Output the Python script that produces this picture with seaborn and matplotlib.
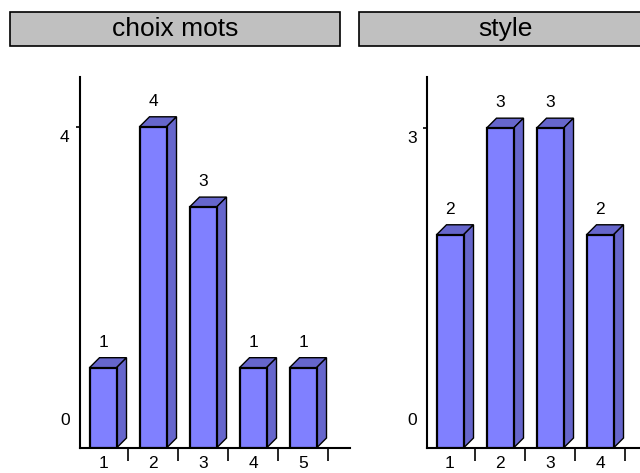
import matplotlib
matplotlib.use('Agg')
import matplotlib.pyplot as plt
from matplotlib.patches import Polygon, Rectangle
import seaborn as sns
import pandas as pd

# data
mots_categories = ['1', '2', '3', '4', '5']
mots_values = [1, 4, 3, 1, 1]
mots_yticks = [0, 4]

style_categories = ['1', '2', '3', '4']
style_values = [2, 3, 3, 2]
style_yticks = [0, 3]

panel_titles = ['choix mots', 'style']

FRONT = '#8080ff'
SHADE = '#6666cc'
DPI = 100
STEP_PX = 50  # pixels between two categories

sns.set_theme(style='white')
plt.rcParams['font.family'] = ['Liberation Sans', 'DejaVu Sans']

fig = plt.figure(figsize=(6.4, 4.73), dpi=DPI)
W, H = 640, 473


def px_axes(x0, y0, x1, y1):
    # pixel box (top-left origin) -> figure axes
    return fig.add_axes([x0 / W, 1 - y1 / H, (x1 - x0) / W, (y1 - y0) / H])


def header(x0, x1, text):
    y0, y1 = 12, 46
    rect = Rectangle((x0 / W, 1 - y1 / H), (x1 - x0) / W, (y1 - y0) / H,
                     transform=fig.transFigure, facecolor='#c0c0c0',
                     edgecolor='black', linewidth=1.2)
    fig.patches.append(rect)
    fig.text(((x0 + x1) / 2) / W, 1 - ((y0 + y1) / 2) / H, text,
             ha='center', va='center', fontsize=19, color='black')


def bar_panel(ax, cats, vals, yticks, ytop):
    df = pd.DataFrame({'cat': cats, 'val': vals})
    n = len(cats)
    sns.barplot(data=df, x='cat', y='val', ax=ax, width=0.54, color=FRONT,
                saturation=1, edgecolor='black', linewidth=1.6, zorder=3)

    bbox = ax.get_position()
    ax_w = bbox.width * W
    ax_h = bbox.height * H
    xspan = ax_w / STEP_PX
    ax.set_xlim(-0.46, -0.46 + xspan)
    ax.set_ylim(0, ytop)
    ax.set_xlabel('')
    ax.set_ylabel('')

    # pixel depth of the 3d look converted to data units
    dx = 10 * xspan / ax_w
    dy = 10 * ytop / ax_h

    for p in ax.patches:
        x0 = p.get_x()
        w = p.get_width()
        h = p.get_height()
        top = Polygon([(x0, h), (x0 + dx, h + dy), (x0 + w + dx, h + dy), (x0 + w, h)],
                      closed=True, facecolor=SHADE, edgecolor='black', linewidth=1, zorder=2)
        side = Polygon([(x0 + w, 0), (x0 + w + dx, dy), (x0 + w + dx, h + dy), (x0 + w, h)],
                       closed=True, facecolor=SHADE, edgecolor='black', linewidth=1, zorder=2)
        ax.add_patch(top)
        ax.add_patch(side)
        ax.annotate(f'{int(round(h))}', (x0 + w / 2, h), xytext=(0, 15),
                    textcoords='offset points', ha='center', va='baseline',
                    fontsize=12.5, color='black')

    # spines
    for s in ['top', 'right']:
        ax.spines[s].set_visible(False)
    for s in ['left', 'bottom']:
        ax.spines[s].set_color('black')
        ax.spines[s].set_linewidth(1.5)

    # x: labels at centres, tick marks between bars
    ax.set_xticks(range(n))
    ax.set_xticklabels(cats)
    ax.set_xticks([i + 0.5 for i in range(n)], minor=True)
    ax.tick_params(axis='x', which='major', length=0, pad=5.5, labelsize=12.5,
                   labelcolor='black')
    ax.tick_params(axis='x', which='minor', bottom=True, length=9, width=1.2,
                   color='black', direction='out')

    # y: only a short tick at the top value, labels drawn a bit off the tick
    ax.set_yticks([])
    ax.set_yticks([yticks[-1]], minor=True)
    ax.tick_params(axis='y', which='minor', left=True, length=3, width=1.2,
                   color='black', direction='out')
    offsets = {yticks[0]: 20, yticks[-1]: -7.5}
    for t in yticks:
        ax.annotate(str(t), (0, t), xycoords=('axes fraction', 'data'),
                    xytext=(-7.5, offsets[t]), textcoords='offset points',
                    ha='right', va='center', fontsize=12.5, color='black')


ax1 = px_axes(80, 77, 350, 448)
bar_panel(ax1, mots_categories, mots_values, mots_yticks, 4.62)

ax2 = px_axes(427, 77, 647, 448)
bar_panel(ax2, style_categories, style_values, style_yticks, 3.48)

header(10, 340, panel_titles[0])
header(359, 651, panel_titles[1])

fig.savefig('out.png', dpi=DPI)
